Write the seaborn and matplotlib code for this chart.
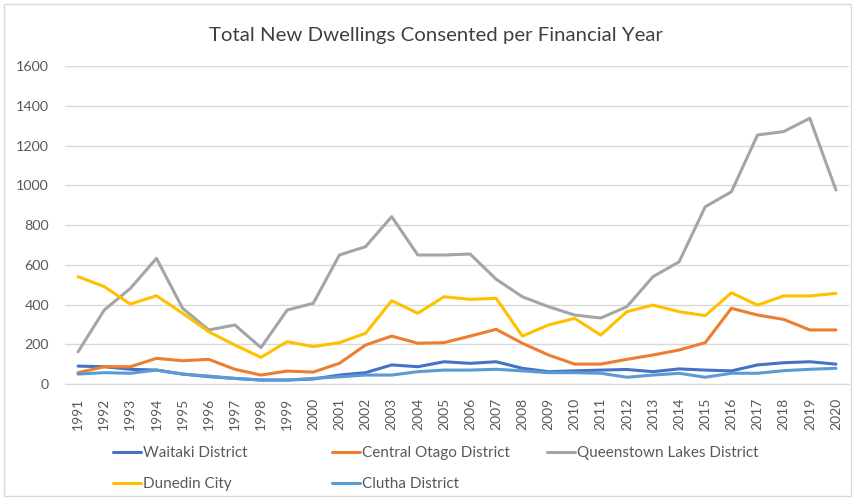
import numpy as np
import pandas as pd
import seaborn as sns
import matplotlib.pyplot as plt
from matplotlib.patches import Rectangle

years = list(range(1991, 2021))

waitaki = [90, 87, 74, 70, 50, 37, 28, 20, 20, 25, 45, 57, 96, 87, 112, 104, 112, 79, 62, 66,
           70, 73, 62, 76, 70, 66, 96, 107, 112, 100]
central_otago = [57, 87, 87, 129, 117, 124, 74, 45, 65, 60, 104, 196, 241, 205, 208, 241, 275, 205, 146, 100,
                 100, 124, 146, 171, 208, 381, 347, 325, 272, 272]
queenstown = [162, 372, 481, 632, 381, 272, 297, 183, 372, 406, 649, 691, 842, 649, 649, 654, 527, 439, 389, 347,
              332, 389, 540, 615, 892, 967, 1253, 1270, 1337, 976]
dunedin = [540, 490, 402, 444, 356, 263, 196, 134, 213, 188, 208, 255, 419, 356, 439, 426, 431, 241, 297, 330,
           246, 364, 397, 364, 344, 459, 397, 443, 443, 456]
clutha = [50, 57, 54, 70, 50, 40, 28, 20, 20, 28, 36, 45, 45, 62, 70, 70, 74, 66, 57, 57,
          54, 34, 45, 54, 34, 54, 54, 67, 74, 79]

series_names = ["Waitaki District", "Central Otago District", "Queenstown Lakes District",
                "Dunedin City", "Clutha District"]
colors = ["#4472C4", "#ED7D31", "#A5A5A5", "#FFC000", "#5B9BD5"]

df = pd.DataFrame({"Year": years, series_names[0]: waitaki, series_names[1]: central_otago,
                   series_names[2]: queenstown, series_names[3]: dunedin, series_names[4]: clutha})
long = df.melt(id_vars="Year", var_name="District", value_name="Dwellings")

sns.set_style("white")
plt.rcParams['font.family'] = ['Lato', 'DejaVu Sans']

fig = plt.figure(figsize=(8.53, 4.98), dpi=100)
ax = fig.add_axes([65 / 853, 1 - 384 / 498, 784 / 853, 318 / 498])

sns.lineplot(data=long, x="Year", y="Dwellings", hue="District", hue_order=series_names,
             palette=colors, linewidth=2.2, ax=ax, legend=False)

ax.set_xlim(1990.5, 2020.5)
ax.set_ylim(0, 1600)
ax.set_yticks(range(0, 1601, 200))
ax.set_xticks(years)
ax.set_xticklabels([str(y) for y in years], rotation=90, fontsize=10, color="#595959")
ax.tick_params(axis="y", labelsize=10.3, labelcolor="#595959", length=0, pad=11.5)
ax.tick_params(axis="x", length=0, pad=10)
ax.yaxis.grid(True, color="#D9D9D9", linewidth=1)
ax.set_axisbelow(True)
for s in ["top", "right", "left"]:
    ax.spines[s].set_visible(False)
ax.spines["bottom"].set_color("#D9D9D9")
ax.set_xlabel("")
ax.set_ylabel("")

fig.text(436 / 853, 1 - 35 / 498, "Total New Dwellings Consented per Financial Year",
         ha="center", va="center", fontsize=14.7, color="#404040")

# legend laid out like the Excel one: three columns with their own left edges
columns = [([0, 3], 113), ([1, 4], 332), ([2], 547)]
for idx, x0 in columns:
    hs = [plt.Line2D([], [], color=colors[i], linewidth=2.2) for i in idx]
    leg = fig.legend(hs, [series_names[i] for i in idx], loc="upper left",
                     bbox_to_anchor=(x0 / 853, 1 - 446 / 498), frameon=False, fontsize=11,
                     handlelength=1.85, handletextpad=0.13, labelspacing=1.14,
                     borderpad=0, borderaxespad=0)
    for t in leg.get_texts():
        t.set_color("#595959")

fig.patches.append(Rectangle((4 / 853, 2 / 498), 847 / 853, 492 / 498, transform=fig.transFigure,
                             fill=False, edgecolor="#D9D9D9", linewidth=1))

fig.savefig("out.png", dpi=100)
